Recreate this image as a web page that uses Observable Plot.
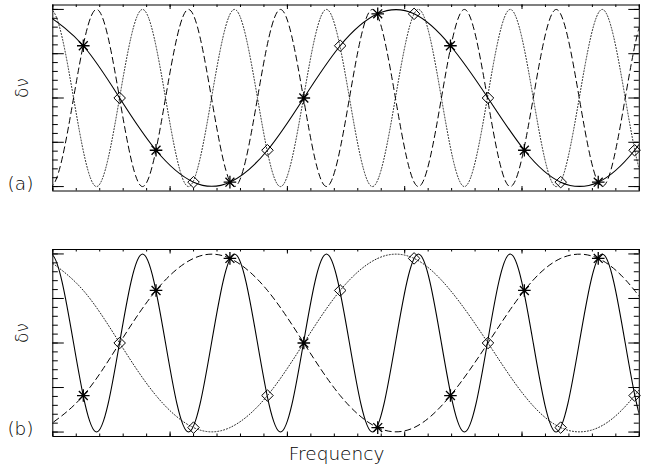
<!DOCTYPE html>
<html><head><meta charset="utf-8">
<script src="https://cdn.jsdelivr.net/npm/d3@7"></script>
<script src="https://cdn.jsdelivr.net/npm/@observablehq/plot@0.6"></script>
<style>html,body{margin:0;padding:0;background:#fff;} svg{display:block}</style>
</head><body><div id="chart"></div>
<script>
// ---- data (x in frequency units 0..5, y in δν units) ----
// sample positions (asterisks = even, diamonds = odd)
const asteriskX = [0.26, 0.88, 1.51, 2.14, 2.77, 3.39, 4.02, 4.65];
const diamondX  = [0.57, 1.20, 1.83, 2.45, 3.08, 3.71, 4.33, 4.96];
const asteriskA = [0.59, -0.59, -0.95, 0, 0.95, 0.59, -0.59, -0.95];
const diamondA  = [0, -0.95, -0.59, 0.59, 0.95, 0, -0.95, -0.59];
const asteriskB = [-0.59, 0.59, 0.95, 0, -0.95, -0.59, 0.59, 0.95];
const diamondB  = [0, -0.95, -0.59, 0.59, 0.95, 0, -0.95, -0.59];

// high-frequency curves: peaks, troughs and crossings
const hfX = [-0.215, -0.019, 0.177, 0.373, 0.569, 0.765, 0.961, 1.157, 1.353, 1.549, 1.745, 1.941, 2.137, 2.333, 2.529, 2.725, 2.921, 3.117, 3.313, 3.509, 3.705, 3.900, 4.096, 4.292, 4.488, 4.684, 4.880, 5.076, 5.272];
const dashedA = [0, -1, 0, 1, 0, -1, 0, 1, 0, -1, 0, 1, 0, -1, 0, 1, 0, -1, 0, 1, 0, -1, 0, 1, 0, -1, 0, 1, 0];
const dottedA = [0, 1, 0, -1, 0, 1, 0, -1, 0, 1, 0, -1, 0, 1, 0, -1, 0, 1, 0, -1, 0, 1, 0, -1, 0, 1, 0, -1, 0];
const solidB  = [0, 1, 0, -1, 0, 1, 0, -1, 0, 1, 0, -1, 0, 1, 0, -1, 0, 1, 0, -1, 0, 1, 0, -1, 0, 1, 0, -1, 0];

// low-frequency curves through the sample points
const loX = [-0.06, 0.26, 0.57, 0.88, 1.20, 1.51, 1.83, 2.14, 2.45, 2.77, 3.08, 3.39, 3.71, 4.02, 4.33, 4.65, 4.96, 5.27];
const solidA  = [0.95, 0.59, 0, -0.59, -0.95, -0.95, -0.59, 0, 0.59, 0.95, 0.95, 0.59, 0, -0.59, -0.95, -0.95, -0.59, 0];
const dottedB = [0.95, 0.59, 0, -0.59, -0.95, -0.95, -0.59, 0, 0.59, 0.95, 0.95, 0.59, 0, -0.59, -0.95, -0.95, -0.59, 0];
const dashedB = [-0.95, -0.59, 0, 0.59, 0.95, 0.95, 0.59, 0, -0.59, -0.95, -0.95, -0.59, 0, 0.59, 0.95, 0.95, 0.59, 0];

// axis ticks (unlabelled)
const xMajor = [0, 1, 2, 3, 4, 5];
const xMinor = d3.range(0, 5.001, 0.2);
const yMajor = [-1, -0.5, 0, 0.5, 1];
const yMinor = d3.range(-1, 1.001, 0.1);

const panelLabels = ["(a)", "(b)"];
const yLabel = "δν";
const xLabel = "Frequency";

// ---- drawing ----
const pts = (xs, ys) => xs.map((x, i) => ({x, y: ys[i]}));
const FONT = "DejaVu Sans";

const asterisk = {
  draw(ctx, size) {
    const r = Math.sqrt(size / Math.PI);
    const d = r * Math.SQRT1_2;
    ctx.moveTo(-r, 0); ctx.lineTo(r, 0);
    ctx.moveTo(0, -r); ctx.lineTo(0, r);
    ctx.moveTo(-d, -d); ctx.lineTo(d, d);
    ctx.moveTo(-d, d); ctx.lineTo(d, -d);
  }
};

function panel({height, marginTop, marginBottom, solid, dashed, dotted, ast, dia, label, labelDy, extra = []}) {
  const marginLeft = 52.3, marginRight = 11.2, width = 650;
  const iw = width - marginLeft - marginRight;
  const ih = height - marginTop - marginBottom;
  const lineOpts = {x: "x", y: "y", curve: "natural", stroke: "black", clip: true};
  return Plot.plot({
    width, height, marginLeft, marginRight, marginTop, marginBottom,
    x: {domain: [0, 5], axis: null},
    y: {domain: [-1.05, 1.05], axis: null},
    style: {fontFamily: FONT, background: "white", color: "black"},
    marks: [
      Plot.line(dotted.data, {...lineOpts, strokeWidth: 1, strokeDasharray: "1,2", stroke: "#222"}),
      Plot.line(dashed.data, {...lineOpts, strokeWidth: 1, strokeDasharray: "6,4"}),
      Plot.line(solid.data, {...lineOpts, strokeWidth: 1.1}),
      // ticks: bottom / top
      Plot.tickX(xMinor, {x: d => d, insetTop: ih - 2.5, stroke: "black"}),
      Plot.tickX(xMajor, {x: d => d, insetTop: ih - 4.5, stroke: "black"}),
      Plot.tickX(xMinor, {x: d => d, insetBottom: ih - 2.5, stroke: "black"}),
      Plot.tickX(xMajor, {x: d => d, insetBottom: ih - 4.5, stroke: "black"}),
      // ticks: left / right
      Plot.tickY(yMinor, {y: d => d, insetRight: iw - 5.5, stroke: "black"}),
      Plot.tickY(yMajor, {y: d => d, insetRight: iw - 11.5, stroke: "black"}),
      Plot.tickY(yMinor, {y: d => d, insetLeft: iw - 5, stroke: "black"}),
      Plot.tickY(yMajor, {y: d => d, insetLeft: iw - 10.5, stroke: "black"}),
      Plot.frame({stroke: "black", strokeWidth: 1}),
      Plot.dot(dia, {x: "x", y: "y", symbol: "diamond2", r: 5.2, stroke: "black", fill: "none", strokeWidth: 1}),
      Plot.dot(ast, {x: "x", y: "y", symbol: asterisk, r: 6.3, stroke: "black", fill: "none", strokeWidth: 1.3}),
      Plot.text([yLabel], {text: d => d, frameAnchor: "left", dx: -30.5, rotate: -90, fontSize: 17, fill: "black", fontWeight: 300}),
      Plot.text([label], {text: d => d, frameAnchor: "bottom-left", dx: -32.3, dy: labelDy, lineAnchor: "bottom", textAnchor: "middle", fontSize: 18.5, fill: "black", fontWeight: 300}),
      ...extra
    ]
  });
}

const A = panel({
  height: 222, marginTop: 4.5, marginBottom: 31.5,
  solid: {data: pts(loX, solidA)}, dashed: {data: pts(hfX, dashedA)}, dotted: {data: pts(hfX, dottedA)},
  ast: pts(asteriskX, asteriskA), dia: pts(diamondX, diamondA),
  label: panelLabels[0], labelDy: -1.5
});
const B = panel({
  height: 246, marginTop: 27, marginBottom: 32,
  solid: {data: pts(hfX, solidB)}, dashed: {data: pts(loX, dashedB)}, dotted: {data: pts(loX, dottedB)},
  ast: pts(asteriskX, asteriskB), dia: pts(diamondX, diamondB),
  label: panelLabels[1], labelDy: -2,
  extra: [Plot.text([xLabel], {text: d => d, frameAnchor: "bottom", dx: -9.5, dy: 23, lineAnchor: "bottom", fontSize: 18.5, fill: "black", fontWeight: 300})]
});
const root = document.getElementById("chart");
root.append(A, B);
</script></body></html>
